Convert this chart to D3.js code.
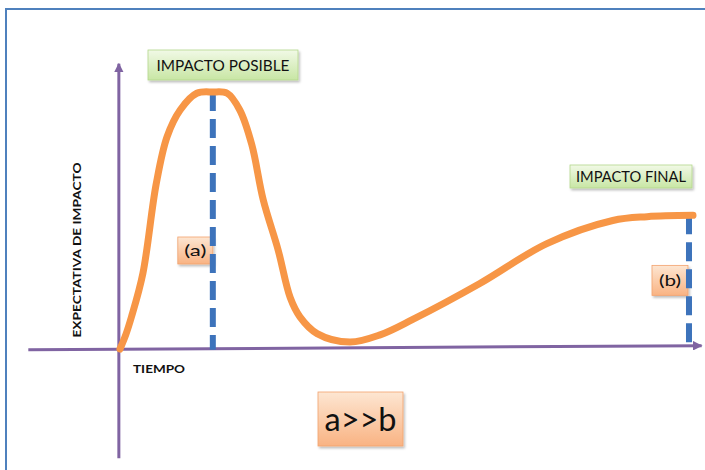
<!DOCTYPE html>
<html><head><meta charset="utf-8">
<script src="https://cdn.jsdelivr.net/npm/d3@7"></script>
<style>html,body{margin:0;padding:0;background:#fff;}svg{display:block;}</style>
</head><body>
<script>
// ---- data ----
const time  = [0,1,2,4,6.3,8.2,10.5,13.4,16.2,18.7,20.9,23,25,27.6,29.7,31.4,34.4,40.1,45.4,51.1,62.8,74.5,86,92,100];
const value = [0,5.5,12.5,29.5,64,82.5,93,99.5,100,99.5,93,79.5,58,38.5,20,12.5,6,2.7,5.5,11.5,25.5,41,50,51.5,52];
const markerNames = ["(a)","(b)"];
const markerTime  = [16.2, 99.3];
const markerValue = [100, 52];
const calloutText = ["IMPACTO POSIBLE","IMPACTO FINAL"];
const xTitle = "TIEMPO";
const yTitle = "EXPECTATIVA DE IMPACTO";
const note = "a>>b";

const W=705,H=470;
const x=d3.scaleLinear().domain([0,100]).range([120,693]);
const y=d3.scaleLinear().domain([0,100]).range([349,92]);

const svg=d3.select("body").append("svg").attr("width",W).attr("height",H);
const defs=svg.append("defs");
const g1=defs.append("linearGradient").attr("id","green").attr("x1",0).attr("y1",0).attr("x2",0).attr("y2",1);
g1.append("stop").attr("offset","0%").attr("stop-color","#f1f9e6");
g1.append("stop").attr("offset","100%").attr("stop-color","#c8e6a4");
const g2=defs.append("linearGradient").attr("id","orange").attr("x1",0).attr("y1",0).attr("x2",0).attr("y2",1);
g2.append("stop").attr("offset","0%").attr("stop-color","#fde6d2");
g2.append("stop").attr("offset","100%").attr("stop-color","#f9b383");
const f=defs.append("filter").attr("id","sh").attr("x","-20%").attr("y","-20%").attr("width","150%").attr("height","160%");
f.append("feDropShadow").attr("dx",1.5).attr("dy",2).attr("stdDeviation",1.2).attr("flood-color","#000").attr("flood-opacity",0.25);
defs.append("marker").attr("id","arr").attr("viewBox","0 0 10 10").attr("refX",9).attr("refY",5)
  .attr("markerWidth",3.2).attr("markerHeight",3.2).attr("orient","auto").attr("markerUnits","strokeWidth")
  .append("path").attr("d","M0,0L10,5L0,10z").attr("fill","#8064a2");

// frame
svg.append("rect").attr("x",6).attr("y",9).attr("width",720).attr("height",480)
  .attr("fill","none").attr("stroke","#4f81bd").attr("stroke-width",2);

// axes
svg.append("line").attr("x1",x(-16)).attr("y1",y(-0.3)).attr("x2",x(101.5)).attr("y2",y(1.3))
  .attr("stroke","#8064a2").attr("stroke-width",3).attr("marker-end","url(#arr)");
svg.append("line").attr("x1",x(-0.2)).attr("y1",y(-42.5)).attr("x2",x(-0.2)).attr("y2",y(111))
  .attr("stroke","#8064a2").attr("stroke-width",3).attr("marker-end","url(#arr)");

const FONT="Lato, 'Open Sans', sans-serif";
function box(cx0,cy0,w,h,fill,txt,fs,tl){
  const gg=svg.append("g");
  gg.append("rect").attr("x",cx0).attr("y",cy0).attr("width",w).attr("height",h)
    .attr("fill",`url(#${fill})`).attr("stroke",fill==="green"?"#b3d88c":"#f2a26d").attr("stroke-width",0.8)
    .attr("filter","url(#sh)");
  gg.append("text").attr("x",cx0+w/2).attr("y",cy0+h/2).attr("dy","0.36em").attr("text-anchor","middle")
    .attr("font-family",FONT).attr("font-size",fs).attr("fill","#111")
    .attr("textLength",tl).attr("lengthAdjust","spacingAndGlyphs").text(txt);
}
box(x(markerTime[0])-35,y(markerValue[0])+145,35,27,"orange",markerNames[0],15,22);
box(x(markerTime[1])-37,y(markerValue[1])+50,36,30,"orange",markerNames[1],15,22);

// dashed markers
markerTime.forEach((t,i)=>{
  svg.append("line").attr("x1",x(t)).attr("x2",x(t)).attr("y1",y(markerValue[i])).attr("y2",y(i===0?-0.3:1.2))
    .attr("stroke","#3d73bb").attr("stroke-width",6).attr("stroke-dasharray","19,8");
});

// curve
const line=d3.line().x((d,i)=>x(time[i])).y((d,i)=>y(value[i])).curve(d3.curveCatmullRom.alpha(0.5));
svg.append("path").datum(value).attr("d",line).attr("fill","none")
  .attr("stroke","#f79646").attr("stroke-width",7).attr("stroke-linecap","round").attr("stroke-linejoin","round");

// callouts
box(148,50,150,30,"green",calloutText[0],15.5,133);
box(570,165,122,23,"green",calloutText[1],15,110);
box(318,392,85,54,"orange",note,32,72);

// titles
svg.append("text").attr("x",133).attr("y",373).attr("font-family",FONT)
  .attr("font-weight","bold").attr("font-size",11.5).attr("fill","#111")
  .attr("textLength",52).attr("lengthAdjust","spacingAndGlyphs").text(xTitle);
svg.append("text").attr("transform","translate(81,250) rotate(-90)").attr("text-anchor","middle")
  .attr("font-family",FONT).attr("font-weight","bold").attr("font-size",12).attr("fill","#111")
  .attr("textLength",175).attr("lengthAdjust","spacingAndGlyphs").text(yTitle);
</script>
</body></html>
